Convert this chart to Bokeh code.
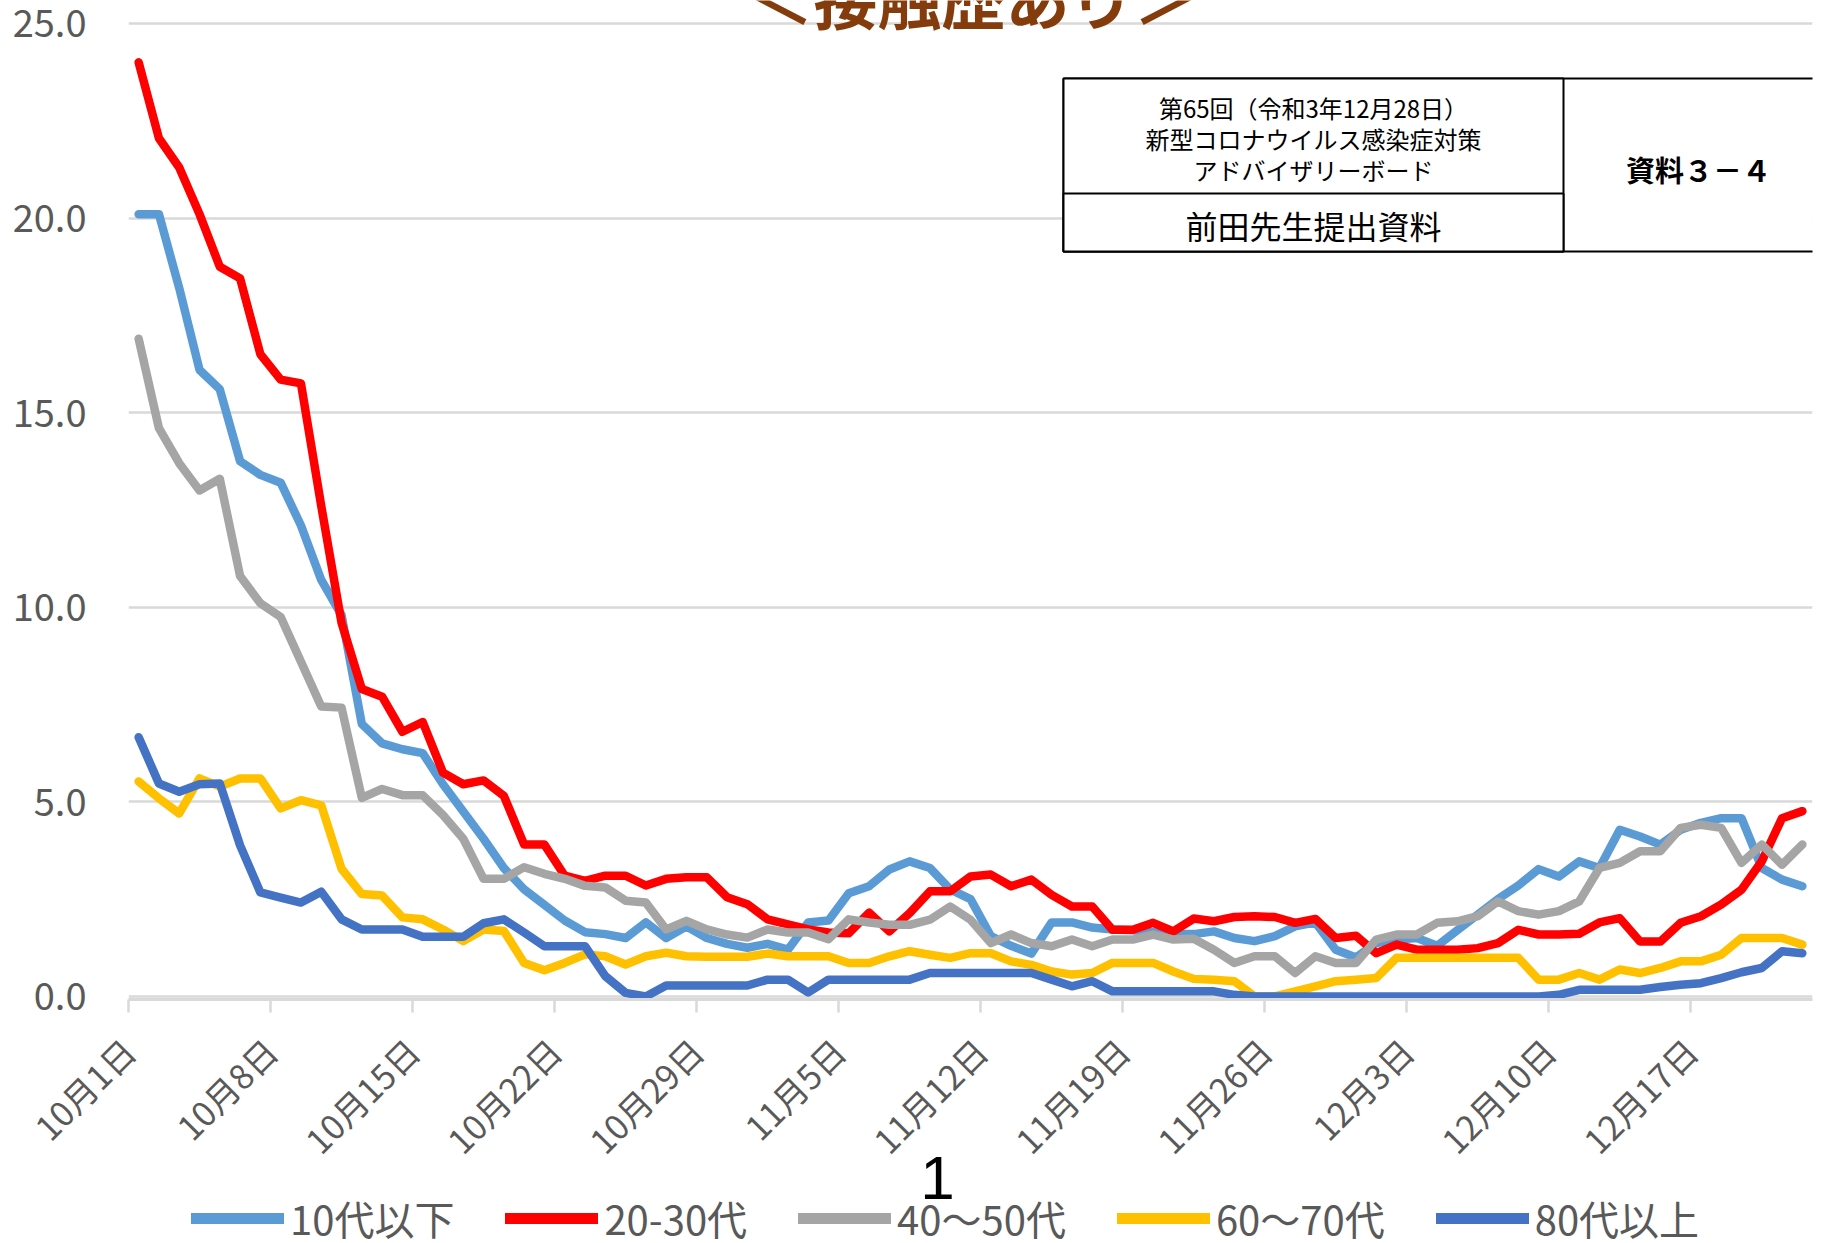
import math
from bokeh.plotting import figure
from bokeh.layouts import column
from bokeh.models import (Range1d, FixedTicker, Legend, LegendItem, Label,
                          BoxAnnotation, ColumnDataSource)
from bokeh.embed import file_html
from bokeh.resources import INLINE

# ---------------- data ----------------
tick_days = [0, 7, 14, 21, 28, 35, 42, 49, 56, 63, 70, 77]
tick_labels = ["10月1日", "10月8日", "10月15日", "10月22日", "10月29日", "11月5日",
               "11月12日", "11月19日", "11月26日", "12月3日", "12月10日", "12月17日"]
n_days = 83  # 10月1日 .. 12月22日

series_names = ["10代以下", "20-30代", "40～50代", "60～70代", "80代以上"]
series_colors = ["#5B9BD5", "#FF0000", "#A5A5A5", "#FFC000", "#4472C4"]

age_u10 = [20.1, 20.1, 18.2, 16.1, 15.6, 13.75, 13.4, 13.2, 12.1, 10.7,
           9.8, 7.0, 6.5, 6.35, 6.25, 5.45, 4.75, 4.05, 3.3, 2.75,
           2.35, 1.95, 1.65, 1.6, 1.5, 1.9, 1.5, 1.8, 1.5, 1.35,
           1.25, 1.35, 1.2, 1.9, 1.95, 2.65, 2.83, 3.26, 3.47, 3.3,
           2.75, 2.5, 1.55, 1.3, 1.1, 1.9, 1.9, 1.77, 1.72, 1.7,
           1.65, 1.6, 1.6, 1.67, 1.5, 1.42, 1.55, 1.8, 1.9, 1.2,
           1.0, 1.37, 1.46, 1.5, 1.3, 1.7, 2.1, 2.5, 2.85, 3.27,
           3.08, 3.47, 3.3, 4.28, 4.11, 3.9, 4.28, 4.46, 4.58, 4.58,
           3.3, 3.0, 2.83]
age_20_30 = [24.0, 22.05, 21.3, 20.1, 18.75, 18.45, 16.5, 15.85, 15.75, 12.6,
             9.6, 7.9, 7.7, 6.8, 7.05, 5.75, 5.45, 5.55, 5.15, 3.9,
             3.9, 3.1, 2.97, 3.1, 3.1, 2.85, 3.02, 3.06, 3.06, 2.55,
             2.37, 1.98, 1.85, 1.72, 1.64, 1.62, 2.15, 1.67, 2.14, 2.7,
             2.7, 3.08, 3.13, 2.83, 3.0, 2.61, 2.31, 2.31, 1.71, 1.71,
             1.89, 1.67, 2.0, 1.93, 2.04, 2.06, 2.04, 1.89, 1.99, 1.5,
             1.56, 1.11, 1.33, 1.2, 1.2, 1.2, 1.24, 1.37, 1.71, 1.59,
             1.59, 1.61, 1.9, 2.01, 1.41, 1.41, 1.89, 2.06, 2.36, 2.74,
             3.47, 4.58, 4.76]
age_40_50 = [16.9, 14.6, 13.7, 13.0, 13.3, 10.8, 10.1, 9.75, 8.6, 7.45,
             7.42, 5.1, 5.33, 5.17, 5.17, 4.66, 4.05, 3.02, 3.02, 3.32,
             3.15, 3.02, 2.84, 2.8, 2.46, 2.41, 1.72, 1.94, 1.72, 1.59,
             1.51, 1.72, 1.64, 1.64, 1.47, 1.98, 1.9, 1.84, 1.84, 1.97,
             2.31, 1.97, 1.37, 1.59, 1.37, 1.29, 1.46, 1.29, 1.46, 1.46,
             1.59, 1.46, 1.48, 1.2, 0.86, 1.03, 1.03, 0.6, 1.03, 0.86,
             0.86, 1.46, 1.59, 1.59, 1.89, 1.93, 2.06, 2.44, 2.19, 2.1,
             2.19, 2.44, 3.3, 3.43, 3.73, 3.73, 4.33, 4.41, 4.33, 3.43,
             3.9, 3.38, 3.9]
age_60_70 = [5.52, 5.09, 4.7, 5.6, 5.39, 5.6, 5.6, 4.83, 5.04, 4.91,
             3.28, 2.63, 2.59, 2.03, 1.98, 1.72, 1.42, 1.72, 1.68, 0.86,
             0.67, 0.86, 1.08, 1.03, 0.82, 1.03, 1.12, 1.03, 1.02, 1.02,
             1.02, 1.1, 1.03, 1.03, 1.03, 0.86, 0.86, 1.03, 1.16, 1.07,
             0.99, 1.11, 1.11, 0.9, 0.81, 0.64, 0.56, 0.6, 0.86, 0.86,
             0.86, 0.64, 0.45, 0.43, 0.39, 0.0, 0.0, 0.13, 0.26, 0.39,
             0.43, 0.47, 0.99, 0.99, 0.99, 0.99, 0.99, 0.99, 0.99, 0.43,
             0.43, 0.6, 0.43, 0.69, 0.6, 0.73, 0.9, 0.9, 1.07, 1.5,
             1.5, 1.5, 1.33]
age_80 = [6.66, 5.47, 5.26, 5.45, 5.47, 3.88, 2.67, 2.54, 2.41, 2.69,
          1.98, 1.72, 1.72, 1.72, 1.53, 1.53, 1.53, 1.88, 1.98, 1.64,
          1.29, 1.29, 1.29, 0.52, 0.09, 0.0, 0.28, 0.28, 0.28, 0.28,
          0.28, 0.43, 0.43, 0.1, 0.43, 0.43, 0.43, 0.43, 0.43, 0.6,
          0.6, 0.6, 0.6, 0.6, 0.6, 0.43, 0.26, 0.39, 0.13, 0.13,
          0.13, 0.13, 0.13, 0.13, 0.04, 0.0, 0.0, 0.0, 0.0, 0.0,
          0.0, 0.0, 0.0, 0.0, 0.0, 0.0, 0.0, 0.0, 0.0, 0.0,
          0.04, 0.17, 0.17, 0.17, 0.17, 0.24, 0.3, 0.34, 0.47, 0.62,
          0.73, 1.16, 1.11]

y_ticks = [0, 5, 10, 15, 20, 25]

title_text = "＜接触歴あり＞"
box_lines = ["第65回（令和3年12月28日）", "新型コロナウイルス感染症対策", "アドバイザリーボード"]
box_sub = "前田先生提出資料"
box_right = "資料３－４"
page_no = "1"

# ---------------- main chart ----------------
JP = "Noto Sans CJK JP"
GRAY_TXT = "#595959"
GRID = "#D9D9D9"

H1 = 1189          # main figure height
H2 = 93            # footer figure (page number + legend)
OVERLAP = H1 + H2 - 1243

p = figure(width=1827, height=H1,
           x_range=Range1d(0, n_days), y_range=Range1d(-0.08, 25.59),
           output_backend="svg", toolbar_location=None,
           min_border_left=128, min_border_right=15,
           min_border_top=0, min_border_bottom=H1 - 999)
p.outline_line_color = None
p.background_fill_color = "white"
p.border_fill_color = "white"

p.xaxis.ticker = FixedTicker(ticks=tick_days)
p.xaxis.major_label_overrides = {d: lab for d, lab in zip(tick_days, tick_labels)}
p.xaxis.major_label_orientation = math.pi / 4
p.xaxis.major_label_text_font = JP
p.xaxis.major_label_text_font_size = "34px"
p.xaxis.major_label_text_color = GRAY_TXT
p.xaxis.major_label_standoff = 32
p.xaxis.axis_line_color = GRID
p.xaxis.axis_line_width = 3
p.xaxis.major_tick_line_color = GRID
p.xaxis.major_tick_line_width = 2.5
p.xaxis.major_tick_out = 13
p.xaxis.major_tick_in = 0
p.xaxis.minor_tick_line_color = None

p.yaxis.ticker = FixedTicker(ticks=y_ticks)
p.yaxis.major_label_overrides = {t: f"{t:.1f}" for t in y_ticks}
p.yaxis.major_label_text_font = JP
p.yaxis.major_label_text_font_size = "38px"
p.yaxis.major_label_text_color = GRAY_TXT
p.yaxis.axis_line_color = None
p.yaxis.major_tick_line_color = None
p.yaxis.major_tick_out = 0
p.yaxis.major_tick_in = 0
p.yaxis.minor_tick_line_color = None
p.yaxis.major_label_standoff = 42

p.xgrid.grid_line_color = None
p.ygrid.ticker = FixedTicker(ticks=y_ticks)
p.ygrid.grid_line_color = GRID
p.ygrid.grid_line_width = 2.5

xs = [i + 0.5 for i in range(n_days)]
all_series = [age_u10, age_20_30, age_40_50, age_60_70, age_80]
for name, col, vals in zip(series_names, series_colors, all_series):
    src = ColumnDataSource(dict(x=xs, y=vals))
    p.line("x", "y", source=src, line_color=col, line_width=8.5,
           line_join="round", line_cap="round")

# title (cut at top like the slide)
p.add_layout(Label(x=973, y=-5, x_units="canvas", y_units="canvas",
                   text=title_text, text_align="center", text_baseline="alphabetic",
                   text_font=JP, text_font_style="bold", text_font_size="64px",
                   text_color="#843C0C"))

# info box
box_kw = dict(left_units="canvas", right_units="canvas", top_units="canvas",
              bottom_units="canvas", fill_color="white", fill_alpha=1.0,
              line_color="black", line_width=2, line_alpha=1.0)
p.add_layout(BoxAnnotation(left=1063, right=1860, top=78, bottom=251, **box_kw))
p.add_layout(BoxAnnotation(left=1063, right=1563, top=78, bottom=251, **box_kw))
p.add_layout(BoxAnnotation(left=1063, right=1563, top=193, bottom=251, **box_kw))

for txt, yy in zip(box_lines, [107, 138, 169]):
    p.add_layout(Label(x=1313, y=yy, x_units="canvas", y_units="canvas", text=txt,
                       text_align="center", text_baseline="middle",
                       text_font=JP, text_font_size="24px", text_color="black"))
p.add_layout(Label(x=1313, y=224, x_units="canvas", y_units="canvas", text=box_sub,
                   text_align="center", text_baseline="middle",
                   text_font=JP, text_font_size="32px", text_color="black"))
p.add_layout(Label(x=1698, y=168, x_units="canvas", y_units="canvas", text=box_right,
                   text_align="center", text_baseline="middle",
                   text_font=JP, text_font_style="bold", text_font_size="29px",
                   text_color="black"))

# ---------------- footer: page number + legend ----------------
p2 = figure(width=1827, height=H2, x_range=Range1d(0, 1), y_range=Range1d(0, 1),
            output_backend="svg", toolbar_location=None,
            x_axis_location=None, y_axis_location=None,
            min_border_left=0, min_border_right=0, min_border_top=0, min_border_bottom=0)
p2.outline_line_color = None
p2.xgrid.grid_line_color = None
p2.ygrid.grid_line_color = None
p2.background_fill_alpha = 0
p2.border_fill_alpha = 0
p2.margin = (-OVERLAP, 0, 0, 0)

items = []
for name, col in zip(series_names, series_colors):
    sample = p2.line(x=[float("nan")], y=[float("nan")], line_color=col,
                     line_width=11, line_cap="round")
    items.append(LegendItem(label=name, renderers=[sample]))

legend = Legend(items=items, orientation="horizontal", location=(63, -4),
                glyph_width=93, glyph_height=40, label_height=40,
                label_standoff=6, spacing=51,
                label_text_font=JP, label_text_font_size="40px",
                label_text_color=GRAY_TXT, padding=0, margin=0,
                border_line_color=None, background_fill_alpha=0)
p2.add_layout(legend)

p2.add_layout(Label(x=937, y=27, x_units="canvas", y_units="canvas", text=page_no,
                    text_align="center", text_baseline="middle",
                    text_font="Liberation Sans", text_font_size="62px",
                    text_color="black"))

layout = column(p, p2, spacing=0)
open("out.html", "w").write(file_html(layout, INLINE))
